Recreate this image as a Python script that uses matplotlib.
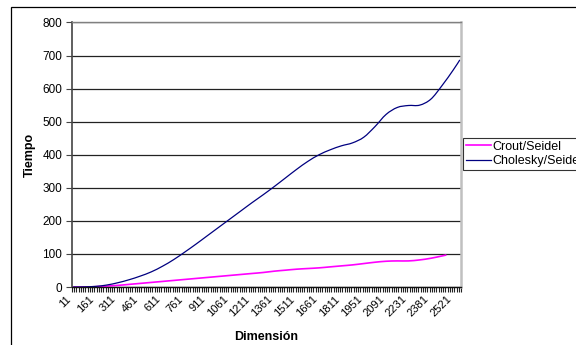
import numpy as np
import matplotlib
matplotlib.use("Agg")
import matplotlib.pyplot as plt
import matplotlib.transforms as mtransforms
from matplotlib.patches import Rectangle, PathPatch
from matplotlib.path import Path

plt.rcParams['font.family'] = ['Liberation Sans', 'DejaVu Sans']

# --- datos ---
n_categorias = 174  # numero de dimensiones probadas (una categoria por dimension)

etiquetas_x = ['11', '161', '311', '461', '611', '761', '911', '1061', '1211',
               '1361', '1511', '1661', '1811', '1951', '2091', '2231', '2381', '2521']
pos_etiquetas = [0, 10, 20, 30, 40, 50, 60, 70, 80,
                 90, 100, 110, 120, 130, 140, 150, 160, 170]

# indice de categoria de cada muestra y tiempos medidos
cholesky_idx = [0, 5, 10, 15, 20, 25, 30, 35, 40, 45, 50, 55, 60, 65, 70, 75, 80, 85,
                90, 95, 100, 105, 110, 115, 120, 125, 130, 135, 140, 145, 150, 155,
                160, 165, 170, 173]
cholesky_t = [0, 0.5, 2, 6, 13, 22, 33, 46, 63, 83, 106, 130, 155, 180, 205, 230, 255, 279,
              304, 330, 356, 380, 400, 415, 427, 436, 453, 485, 522, 543, 549, 550,
              568, 609, 656, 687]

crout_idx = [0, 5, 10, 15, 20, 25, 30, 35, 40, 45, 50, 55, 60, 65, 70, 75, 80, 85,
             90, 95, 100, 105, 110, 115, 120, 125, 130, 135, 140, 145, 150, 155,
             160, 165, 167]
crout_t = [0, 0, 1, 3, 5, 8, 11, 14, 17, 20, 23, 26, 29, 32, 35, 38, 41, 44,
           48, 51, 54, 56, 58, 61, 64, 67, 71, 75, 78, 79, 79, 82,
           87, 94, 97]


def linea_suavizada(ax, xs, ys, color, lw, label):
    # curva suavizada estilo Excel: Bezier cubica entre puntos consecutivos
    p = np.column_stack([xs, ys]).astype(float)
    verts = [p[0]]
    codes = [Path.MOVETO]
    for i in range(len(p) - 1):
        prev = p[i - 1] if i > 0 else p[i]
        nxt = p[i + 2] if i + 2 < len(p) else p[i + 1]
        c1 = p[i] + (p[i + 1] - prev) / 6.0
        c2 = p[i + 1] - (nxt - p[i]) / 6.0
        verts += [c1, c2, p[i + 1]]
        codes += [Path.CURVE4] * 3
    ax.add_patch(PathPatch(Path(verts, codes), fill=False, edgecolor=color, lw=lw))
    # entrada de leyenda
    ax.plot([], [], color=color, lw=lw, label=label)


# --- figura ---
fig = plt.figure(figsize=(5.76, 3.45), dpi=100)
ax = fig.add_axes([0.125, 0.168, 0.6753, 0.7668])

linea_suavizada(ax, crout_idx, crout_t, '#ff00ff', 1.2, 'Crout/Seidel')
linea_suavizada(ax, cholesky_idx, cholesky_t, '#000080', 0.9, 'Cholesky/Seidel')

ax.set_xlim(-0.5, n_categorias - 0.5)
ax.set_ylim(0, 800)
ax.set_yticks(np.arange(0, 801, 100))
ax.yaxis.grid(True, color='#222222', lw=0.9)
ax.set_axisbelow(True)

# etiquetas inclinadas del eje x, algo desplazadas a la izquierda del tick
ax.set_xticks(pos_etiquetas)
ax.set_xticklabels([])
desplazamiento = mtransforms.ScaledTranslation(-0.07, -0.07, fig.dpi_scale_trans)
for pos, txt in zip(pos_etiquetas, etiquetas_x):
    ax.text(pos, 0, txt, transform=ax.get_xaxis_transform() + desplazamiento,
            rotation=45, ha='right', va='top', rotation_mode='anchor', fontsize=8)
ax.set_xticks(np.arange(-0.5, n_categorias, 1.0), minor=True)
ax.tick_params(axis='x', which='major', length=0)
ax.tick_params(axis='x', which='minor', length=3.5, width=0.8, color='#222222')
ax.tick_params(axis='y', length=4, width=0.8, color='#444444', labelsize=8.5, pad=3)

ax.spines['left'].set_color('#444444')
ax.spines['left'].set_linewidth(1.2)
ax.spines['bottom'].set_color('#111111')
ax.spines['bottom'].set_linewidth(1.0)
ax.spines['top'].set_color('#808080')
ax.spines['top'].set_linewidth(1.0)
ax.spines['right'].set_color('#c0c0c0')
ax.spines['right'].set_linewidth(1.8)

ax.set_ylabel('Tiempo', fontsize=9, fontweight='bold', labelpad=5)
ax.set_xlabel('Dimensión', fontsize=9, fontweight='bold', labelpad=25)

leg = ax.legend(loc='upper left', bbox_to_anchor=(463 / 576, 1 - 138 / 345),
                bbox_transform=fig.transFigure, fontsize=9, frameon=True,
                fancybox=False, edgecolor='black', handlelength=2.0,
                handletextpad=0.15, borderpad=0.2, labelspacing=0.2,
                borderaxespad=0)
leg.get_frame().set_linewidth(0.8)

# borde del area del grafico
fig.patches.append(Rectangle((11 / 576, -0.1), 1.2, 1.1 - 7 / 345,
                             transform=fig.transFigure, fill=False,
                             edgecolor='black', lw=0.9))

fig.savefig('out.png', dpi=100)
